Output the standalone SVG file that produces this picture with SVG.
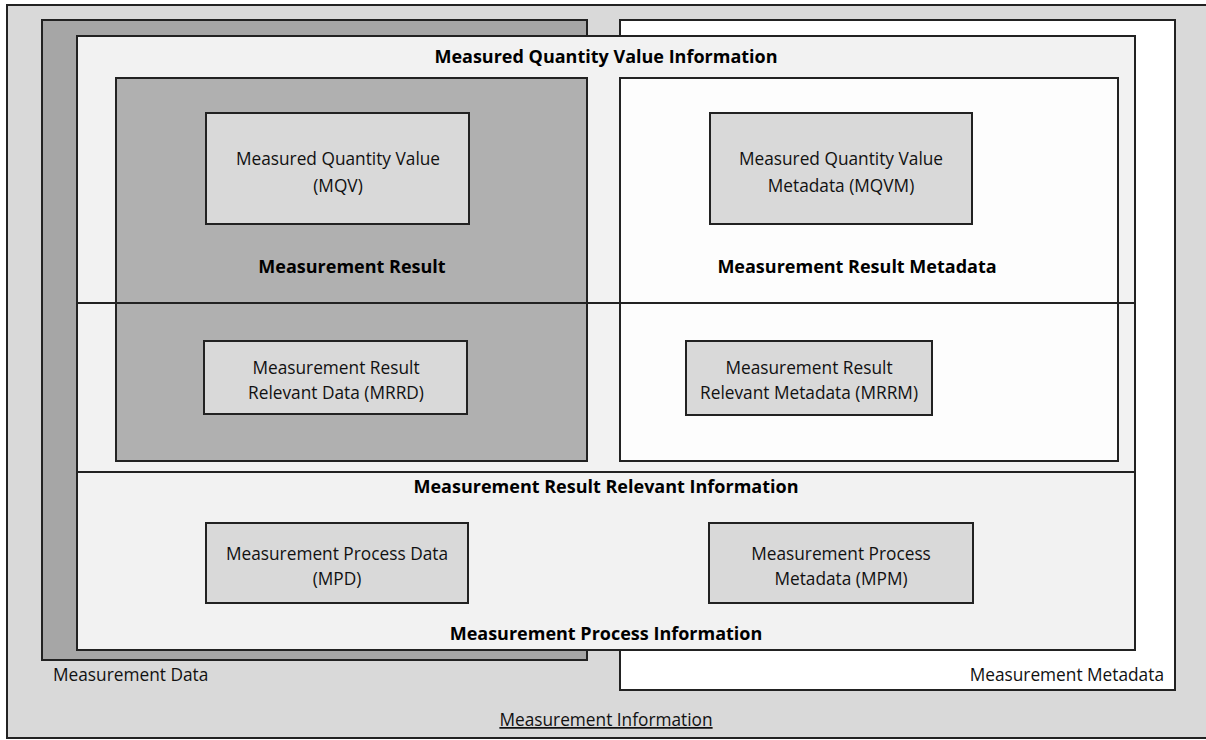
<svg xmlns="http://www.w3.org/2000/svg" width="1206" height="740" viewBox="0 0 1206 740">
<style>
.box{stroke:#222;stroke-width:2}
.ln{stroke:#222;stroke-width:2}
.t{font-family:"Open Sans","Liberation Sans",sans-serif;font-size:17.3px;fill:#111;text-anchor:middle}
.b{font-family:"Open Sans","Liberation Sans",sans-serif;font-size:18px;font-weight:bold;fill:#000;text-anchor:middle}
</style>
<rect width="1206" height="740" fill="#fff"/>
<g id="measurement-information">
<rect class="box" x="7" y="5" width="1210" height="733" fill="#d9d9d9"/>
<text class="t" x="606" y="726" text-decoration="underline">Measurement Information</text>
</g>
<g id="measurement-data">
<rect class="box" x="42" y="20" width="545" height="640" fill="#a6a6a6"/>
<text class="t" x="53" y="681" style="text-anchor:start">Measurement Data</text>
</g>
<g id="measurement-metadata">
<rect class="box" x="620" y="20" width="555" height="670" fill="#ffffff"/>
<text class="t" x="1164" y="681" style="text-anchor:end">Measurement Metadata</text>
</g>
<g id="measured-quantity-value-information">
<rect class="box" x="77" y="36" width="1058" height="614" fill="#f2f2f2"/>
<text class="b" x="606" y="63">Measured Quantity Value Information</text>
</g>
<g id="measurement-result">
<rect class="box" x="116" y="78" width="471" height="383" fill="#b0b0b0"/>
<text class="b" x="352" y="273">Measurement Result</text>
</g>
<g id="measurement-result-metadata">
<rect class="box" x="620" y="78" width="498" height="383" fill="#fdfdfd"/>
<text class="b" x="857" y="273">Measurement Result Metadata</text>
</g>
<g id="connectors">
<line class="ln" x1="77" y1="303" x2="1135" y2="303"/>
<line class="ln" x1="77" y1="472" x2="1135" y2="472"/>
</g>
<g id="measurement-result-relevant-information">
<text class="b" x="606" y="493">Measurement Result Relevant Information</text>
</g>
<g id="measurement-process-information">
<text class="b" x="606" y="640">Measurement Process Information</text>
</g>
<g id="mqv">
<rect class="box" x="206" y="113" width="263" height="111" fill="#d9d9d9"/>
<text class="t" x="338" y="165">Measured Quantity Value</text>
<text class="t" x="338" y="192">(MQV)</text>
</g>
<g id="mqvm">
<rect class="box" x="710" y="113" width="262" height="111" fill="#d9d9d9"/>
<text class="t" x="841" y="165">Measured Quantity Value</text>
<text class="t" x="841" y="192">Metadata (MQVM)</text>
</g>
<g id="mrrd">
<rect class="box" x="204" y="341" width="263" height="73" fill="#d9d9d9"/>
<text class="t" x="336" y="374">Measurement Result</text>
<text class="t" x="336" y="399">Relevant Data (MRRD)</text>
</g>
<g id="mrrm">
<rect class="box" x="686" y="341" width="246" height="74" fill="#d9d9d9"/>
<text class="t" x="809" y="374">Measurement Result</text>
<text class="t" x="809" y="399">Relevant Metadata (MRRM)</text>
</g>
<g id="mpd">
<rect class="box" x="206" y="523" width="262" height="80" fill="#d9d9d9"/>
<text class="t" x="337" y="560">Measurement Process Data</text>
<text class="t" x="337" y="585">(MPD)</text>
</g>
<g id="mpm">
<rect class="box" x="709" y="523" width="264" height="80" fill="#d9d9d9"/>
<text class="t" x="841" y="560">Measurement Process</text>
<text class="t" x="841" y="585">Metadata (MPM)</text>
</g>
</svg>
